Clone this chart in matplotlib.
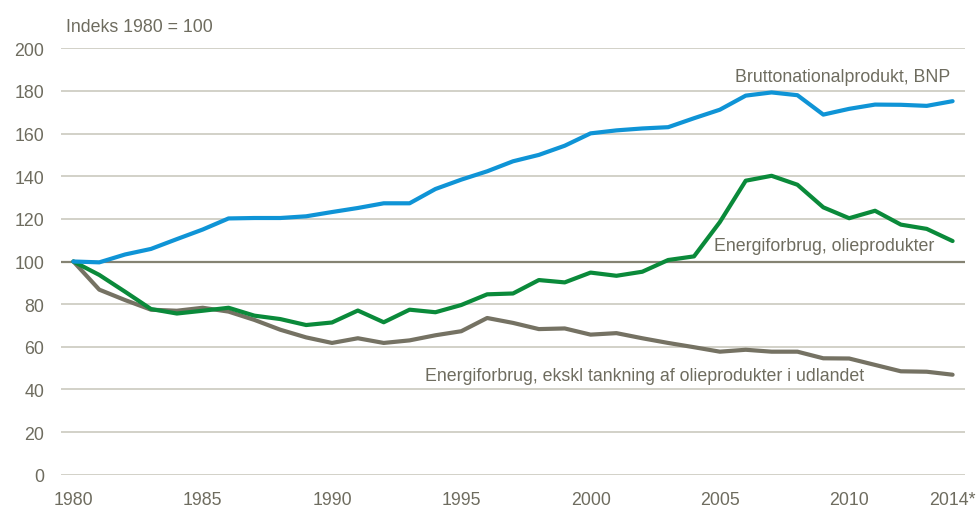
import matplotlib
matplotlib.use("Agg")
import matplotlib.pyplot as plt
from matplotlib import font_manager

years = list(range(1980, 2015))
bnp = [100, 99.6, 103.3, 105.9, 110.5, 115.0, 120.2, 120.4, 120.4, 121.2, 123.2, 125.1,
       127.3, 127.3, 134.0, 138.4, 142.3, 147.0, 150.0, 154.3, 160.1, 161.5, 162.4, 163.0,
       167.2, 171.2, 177.8, 179.3, 178.0, 168.9, 171.6, 173.6, 173.5, 173.0, 175.2]
olie = [100, 93.7, 85.8, 77.7, 75.6, 76.9, 78.3, 74.6, 73.0, 70.2, 71.4, 77.0,
        71.5, 77.4, 76.2, 79.6, 84.6, 85.0, 91.3, 90.2, 94.8, 93.3, 95.2, 100.7,
        102.4, 118.5, 137.9, 140.2, 136.0, 125.4, 120.3, 123.8, 117.3, 115.3, 109.6]
ekskl = [100, 86.8, 81.9, 77.4, 76.9, 78.3, 76.5, 72.6, 68.0, 64.4, 61.8, 64.0,
         61.8, 63.0, 65.4, 67.3, 73.5, 71.2, 68.3, 68.6, 65.7, 66.4, 64.0, 61.8,
         59.8, 57.7, 58.6, 57.7, 57.7, 54.6, 54.5, 51.5, 48.5, 48.3, 46.9]
xtick_vals = [1980, 1985, 1990, 1995, 2000, 2005, 2010, 2014]
xtick_labels = ["1980", "1985", "1990", "1995", "2000", "2005", "2010", "2014*"]
ytick_vals = list(range(0, 201, 20))

names = {f.name for f in font_manager.fontManager.ttflist}
fam = ["Liberation Sans Narrow", "Liberation Sans", "DejaVu Sans"]
fam = [f for f in fam if f in names] or ["DejaVu Sans"]
plt.rcParams["font.family"] = fam

txt = "#6e6c5f"
c_blue = "#0f94d6"
c_green = "#0a8a3a"
c_gray = "#757263"

fig = plt.figure(figsize=(9.76, 5.10), dpi=100)
ax = fig.add_axes([61/976, 1-475.7/510, (965-61)/976, (475.7-49.3)/510])
ax.set_xlim(1979.52, 2014.48)
ax.set_ylim(0, 200)

for v in ytick_vals:
    if v == 100:
        ax.axhline(v, color="#858373", lw=1.6, zorder=1)
    else:
        ax.axhline(v, color="#cbc9bf", lw=1.2, zorder=1)

ax.plot(years, ekskl, color=c_gray, lw=3.0, zorder=3, solid_capstyle="round", solid_joinstyle="round")
ax.plot(years, olie, color=c_green, lw=3.0, zorder=4, solid_capstyle="round", solid_joinstyle="round")
ax.plot(years, bnp, color=c_blue, lw=3.0, zorder=5, solid_capstyle="round", solid_joinstyle="round")

fs = 12.8
for s in ax.spines.values():
    s.set_visible(False)
ax.set_yticks(ytick_vals)
ax.set_yticklabels([str(v) for v in ytick_vals])
ax.set_xticks(xtick_vals)
ax.set_xticklabels(xtick_labels)
ax.tick_params(length=0, labelsize=fs, labelcolor=txt)
ax.tick_params(axis="y", pad=12)
ax.tick_params(axis="x", pad=12)

ax.text(0.005, 1.05, "Indeks 1980 = 100", transform=ax.transAxes, fontsize=fs, color=txt,
        ha="left", va="center")
ax.text(2013.92, 187, "Bruttonationalprodukt, BNP", fontsize=fs, color=txt, ha="right", va="center")
ax.text(2013.28, 107.3, "Energiforbrug, olieprodukter", fontsize=fs, color=txt, ha="right", va="center")
ax.text(2010.58, 46.3, "Energiforbrug, ekskl tankning af olieprodukter i udlandet", fontsize=fs,
        color=txt, ha="right", va="center")

fig.savefig("out.png", dpi=100)
